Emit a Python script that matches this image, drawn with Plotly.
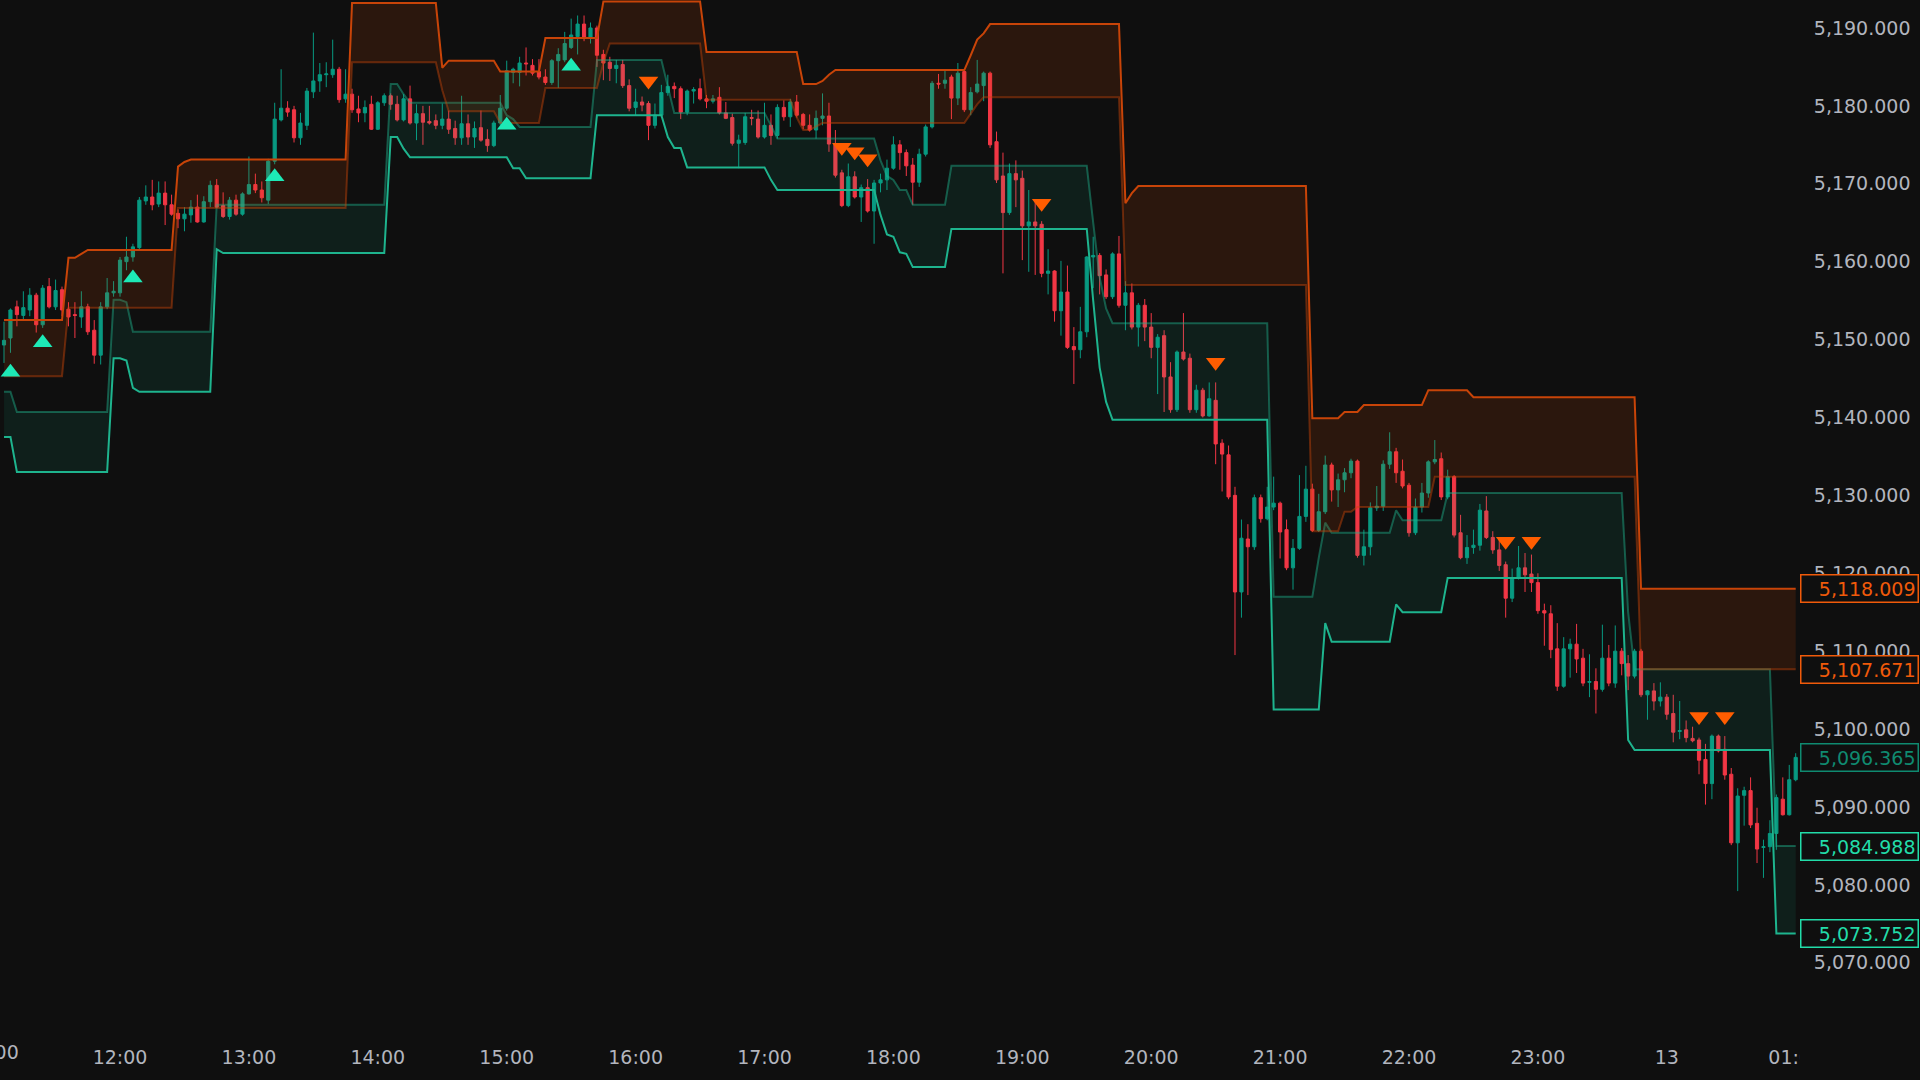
import plotly.graph_objects as go
from datetime import datetime, timedelta

# ---------------- data ----------------
START = "2024-04-12 11:06"   # first 3-minute candle
STEP_MIN = 3

opens = [5149.3,5150.2,5154.2,5153.1,5153.8,5155.7,5151.9,5156.8,5154.2,5156.4,5153.9,5153.2,5152.9,5154.2,5151.2,5148.0,5154.2,5156.0,5156.0,5160.0,
5160.6,5161.8,5167.8,5168.3,5167.4,5168.8,5167.3,5166.2,5165.5,5166.0,5167.0,5165.1,5167.7,5169.8,5167.2,5165.8,5167.9,5166.1,5168.7,5169.9,
5169.2,5167.9,5172.9,5178.2,5179.7,5179.5,5175.9,5177.5,5181.8,5183.2,5184.0,5184.0,5184.7,5180.9,5181.5,5179.6,5179.1,5180.2,5177.0,5180.4,
5181.3,5180.2,5178.2,5180.9,5177.8,5179.0,5178.0,5178.1,5177.5,5178.3,5177.1,5175.9,5177.7,5176.0,5177.2,5175.7,5174.9,5177.8,5179.7,5184.3,
5184.3,5185.5,5185.2,5184.4,5183.7,5183.0,5185.8,5185.9,5187.5,5188.9,5190.5,5188.8,5190.0,5186.6,5185.6,5184.8,5185.3,5182.6,5179.8,5180.5,
5180.3,5177.5,5178.8,5181.7,5182.5,5182.2,5179.2,5181.9,5182.2,5180.9,5180.6,5181.1,5179.1,5178.5,5175.2,5175.3,5178.5,5178.3,5176.0,5177.5,
5176.2,5179.8,5178.6,5180.5,5178.9,5177.5,5176.9,5178.4,5178.7,5175.1,5171.4,5167.2,5170.9,5168.3,5169.5,5166.5,5170.1,5170.5,5172.0,5175.0,
5174.0,5172.4,5170.2,5173.8,5177.3,5182.9,5182.9,5183.7,5181.0,5184.4,5179.5,5181.8,5182.6,5184.2,5175.4,5171.0,5166.3,5171.3,5170.7,5164.6,
5165.1,5164.8,5158.5,5158.8,5153.7,5156.1,5149.1,5148.7,5151.0,5160.6,5160.8,5158.3,5155.5,5161.0,5154.4,5156.0,5151.6,5154.4,5151.6,5149.0,
5150.5,5145.2,5141.0,5148.4,5147.6,5141.0,5143.5,5140.2,5142.2,5136.7,5135.2,5130.0,5117.6,5124.4,5123.4,5129.7,5127.0,5128.5,5129.0,5125.6,
5120.7,5123.2,5127.3,5130.8,5125.5,5127.9,5133.9,5130.7,5132.0,5132.9,5134.4,5122.3,5123.4,5128.4,5128.6,5134.0,5135.6,5133.1,5131.3,5125.2,
5128.5,5130.3,5134.3,5134.7,5129.8,5132.4,5125.2,5122.0,5123.3,5123.6,5128.0,5124.6,5123.0,5121.1,5116.8,5119.4,5120.7,5119.9,5118.8,5115.2,
5114.8,5110.3,5105.5,5110.3,5110.9,5109.1,5106.0,5106.1,5105.1,5109.1,5105.9,5110.0,5108.4,5106.8,5110.0,5104.4,5104.9,5103.6,5104.1,5102.0,
5099.7,5099.9,5098.8,5098.6,5096.1,5093.0,5099.1,5097.4,5094.2,5085.4,5091.5,5092.1,5087.9,5084.8,5084.9,5086.6,5091.0,5089.0,5093.5]

highs = [5152.3,5154.0,5155.0,5156.2,5156.6,5156.0,5157.0,5157.9,5157.7,5156.8,5154.8,5154.8,5156.2,5154.6,5152.5,5154.8,5157.9,5157.5,5160.6,5163.2,
5162.3,5168.3,5169.8,5170.5,5170.3,5170.3,5168.6,5166.7,5167.0,5167.9,5168.6,5168.4,5170.4,5170.6,5168.9,5168.3,5168.6,5168.9,5173.5,5171.3,
5170.3,5173.2,5180.4,5184.7,5180.6,5180.0,5179.1,5182.3,5189.4,5185.5,5185.6,5188.5,5185.0,5184.7,5182.2,5181.3,5180.7,5181.3,5180.6,5181.6,
5181.6,5181.3,5181.5,5182.6,5180.2,5180.0,5180.0,5178.9,5180.3,5179.4,5178.1,5181.3,5178.9,5178.0,5179.4,5177.0,5178.1,5181.4,5185.8,5184.9,
5186.3,5187.5,5186.0,5186.0,5184.7,5186.0,5187.4,5189.5,5191.2,5191.6,5191.6,5190.7,5190.3,5187.2,5186.3,5185.9,5185.9,5183.4,5182.2,5181.2,
5180.6,5180.3,5182.7,5184.0,5183.0,5182.5,5182.1,5182.4,5183.5,5181.4,5181.4,5182.4,5180.5,5179.0,5176.3,5179.1,5179.5,5179.4,5180.4,5178.9,
5180.2,5180.7,5180.9,5181.4,5179.1,5178.9,5179.4,5181.6,5180.4,5176.9,5171.8,5172.6,5171.6,5169.9,5170.6,5170.5,5171.3,5173.1,5176.1,5175.6,
5174.4,5173.3,5174.5,5177.6,5183.2,5184.1,5184.6,5184.0,5185.5,5184.6,5182.4,5185.9,5184.4,5184.4,5176.7,5174.0,5172.6,5173.0,5171.7,5169.2,
5168.0,5165.2,5161.6,5158.9,5160.1,5159.5,5151.6,5154.2,5160.7,5163.2,5161.1,5159.0,5161.2,5163.3,5157.5,5157.2,5154.7,5155.2,5153.4,5150.7,
5151.2,5147.1,5148.6,5153.4,5148.2,5144.2,5143.8,5144.5,5144.5,5137.2,5136.4,5131.1,5126.9,5126.3,5130.1,5130.1,5131.1,5132.4,5129.2,5126.9,
5124.4,5132.6,5133.8,5131.5,5130.2,5135.1,5134.2,5132.8,5133.5,5134.7,5134.6,5125.6,5129.1,5131.2,5134.5,5138.1,5136.1,5134.6,5131.6,5129.6,
5131.6,5134.5,5137.1,5135.5,5133.3,5132.6,5127.5,5124.9,5125.6,5128.9,5129.9,5125.4,5124.5,5121.5,5120.6,5123.5,5122.6,5122.4,5120.0,5116.1,
5115.9,5113.6,5111.8,5111.6,5113.5,5110.3,5109.6,5107.8,5113.4,5110.8,5113.3,5110.4,5109.5,5110.3,5110.3,5105.0,5105.9,5106.0,5104.5,5104.4,
5103.6,5101.1,5100.3,5098.9,5098.1,5099.3,5099.3,5099.1,5095.0,5092.4,5092.6,5093.8,5089.9,5085.8,5088.3,5091.6,5093.8,5095.4,5096.9]

lows = [5147.0,5148.3,5151.7,5152.4,5153.0,5150.9,5151.5,5154.0,5153.8,5153.0,5151.7,5150.2,5151.5,5150.6,5146.9,5146.8,5153.9,5155.5,5155.5,5158.9,
5160.0,5161.5,5167.3,5166.6,5167.0,5164.7,5165.9,5164.3,5163.9,5165.0,5165.0,5165.0,5167.0,5166.9,5165.6,5165.4,5165.9,5165.9,5168.6,5168.8,
5167.6,5167.4,5172.5,5178.0,5178.6,5175.3,5175.0,5176.9,5181.0,5181.8,5182.4,5183.6,5180.4,5180.4,5179.1,5177.9,5177.9,5176.9,5176.9,5180.0,
5179.5,5178.0,5178.0,5177.6,5175.6,5175.0,5177.6,5177.0,5177.0,5176.4,5175.0,5175.0,5175.0,5174.6,5175.4,5174.1,5174.7,5177.5,5179.4,5182.9,
5182.5,5183.9,5183.9,5183.4,5182.7,5182.7,5182.3,5185.6,5187.3,5186.6,5188.3,5188.0,5185.0,5183.3,5183.2,5182.9,5182.3,5179.3,5178.7,5179.3,
5175.6,5177.1,5178.5,5181.3,5181.0,5178.3,5178.8,5180.3,5180.7,5179.7,5180.3,5178.9,5178.3,5174.9,5172.0,5175.0,5177.5,5175.8,5175.8,5175.0,
5175.8,5178.1,5177.3,5178.5,5177.0,5176.7,5175.8,5177.5,5174.1,5170.8,5167.0,5167.0,5168.1,5165.1,5166.3,5162.3,5168.9,5169.2,5171.8,5171.8,
5171.0,5167.3,5169.6,5173.5,5177.1,5182.2,5182.2,5178.3,5180.1,5179.2,5178.8,5181.6,5180.6,5174.6,5170.1,5158.5,5166.0,5167.0,5160.2,5158.7,
5158.3,5158.0,5155.8,5152.3,5150.5,5148.8,5144.3,5147.6,5150.3,5156.6,5155.8,5155.2,5155.2,5154.1,5151.2,5151.3,5149.1,5149.8,5147.6,5143.0,
5140.7,5140.6,5140.7,5147.3,5140.6,5140.6,5140.0,5140.1,5134.0,5130.5,5129.5,5109.5,5114.3,5117.2,5123.0,5126.5,5126.8,5128.1,5121.9,5120.4,
5117.9,5123.0,5126.6,5125.3,5125.3,5127.6,5129.2,5128.5,5130.4,5132.2,5122.0,5121.0,5122.3,5128.0,5128.0,5133.4,5131.6,5130.9,5124.7,5124.9,
5127.8,5129.7,5134.0,5129.4,5129.5,5124.6,5121.8,5121.2,5122.5,5122.9,5124.4,5122.5,5120.3,5114.3,5116.3,5119.2,5117.6,5117.6,5114.8,5110.7,
5109.1,5104.9,5105.3,5106.6,5107.2,5105.5,5104.1,5102.0,5104.8,5105.5,5105.3,5106.9,5105.0,5106.5,5104.1,5101.2,5102.4,5102.9,5101.2,5098.3,
5098.7,5098.3,5098.3,5094.2,5090.3,5091.0,5097.0,5093.5,5085.1,5079.2,5087.6,5087.3,5082.8,5080.9,5084.2,5084.5,5088.9,5088.9,5093.3]

closes = [5149.9,5153.8,5153.2,5154.1,5155.7,5151.9,5156.6,5154.2,5156.3,5153.8,5152.9,5153.1,5154.2,5151.0,5148.0,5154.2,5156.0,5156.2,5160.2,5160.6,
5161.9,5167.9,5168.3,5167.3,5168.8,5167.3,5166.1,5165.5,5166.1,5167.0,5165.1,5167.7,5169.8,5167.0,5165.8,5167.9,5166.1,5168.7,5169.9,5169.2,
5168.2,5172.9,5178.3,5179.7,5179.2,5175.9,5177.8,5181.9,5183.2,5184.0,5184.1,5184.7,5180.8,5181.5,5179.5,5179.1,5179.8,5177.0,5180.4,5181.3,
5180.2,5178.2,5180.9,5177.8,5179.0,5177.9,5177.8,5177.5,5178.3,5177.0,5175.9,5177.7,5176.0,5177.1,5175.6,5174.9,5177.8,5179.7,5184.5,5184.7,
5185.5,5185.4,5184.2,5183.7,5183.0,5185.8,5186.6,5188.0,5189.1,5190.5,5188.7,5190.0,5186.5,5185.5,5184.8,5185.2,5182.6,5179.7,5180.5,5180.1,
5177.5,5178.8,5181.7,5182.5,5182.2,5179.2,5181.9,5182.1,5180.9,5180.6,5180.9,5179.1,5178.4,5175.2,5175.6,5178.6,5178.4,5176.0,5177.5,5176.2,
5179.8,5178.6,5180.5,5178.8,5177.5,5176.9,5178.4,5178.7,5175.1,5171.1,5167.2,5170.9,5168.3,5169.5,5166.5,5170.1,5170.5,5172.0,5175.0,5174.0,
5172.3,5170.2,5173.8,5177.3,5182.9,5182.8,5183.3,5181.0,5184.2,5179.5,5181.7,5182.8,5184.2,5175.0,5170.5,5166.3,5171.3,5170.5,5164.6,5165.1,
5164.6,5158.5,5158.8,5153.7,5156.1,5149.0,5148.7,5151.0,5160.6,5160.8,5158.2,5155.5,5161.0,5154.4,5156.0,5151.6,5154.4,5151.6,5149.0,5150.3,
5145.2,5141.0,5148.4,5147.5,5141.0,5143.5,5140.2,5142.4,5136.6,5135.3,5129.8,5117.6,5124.5,5123.4,5129.7,5127.0,5128.5,5129.0,5125.3,5120.7,
5123.2,5127.3,5130.8,5125.5,5127.9,5133.9,5130.7,5132.0,5132.9,5134.4,5122.3,5123.4,5128.4,5128.6,5134.0,5135.6,5132.9,5131.2,5125.2,5128.5,
5130.3,5134.3,5134.6,5129.8,5132.4,5124.9,5122.0,5123.3,5123.6,5128.1,5124.6,5123.0,5121.0,5116.8,5119.4,5120.7,5119.8,5118.8,5115.2,5114.9,
5110.2,5105.5,5110.3,5110.9,5109.0,5105.9,5106.1,5105.1,5109.1,5105.9,5110.0,5108.4,5106.8,5110.0,5104.4,5104.9,5103.6,5104.1,5101.9,5099.6,
5099.8,5098.9,5098.5,5096.0,5093.0,5099.1,5097.2,5094.1,5085.4,5091.4,5092.1,5087.7,5084.6,5084.9,5086.6,5091.2,5089.0,5093.5,5096.365]

# zone lines: (candle index where a level starts, level) - each level holds until the next entry
orange_top_idx = [0, 10, 12, 13, 27, 28, 29, 54, 68, 69, 77, 84, 93, 109, 124, 127, 128, 129, 150, 151, 152, 153, 174, 175, 176, 203, 208, 211, 221, 228, 254]
orange_top_val = [5152.5, 5160.5, 5161.0, 5161.5, 5172.2, 5172.8, 5173.1, 5193.2, 5184.9, 5185.8, 5184.4, 5188.7, 5193.4, 5186.9, 5182.8, 5183.2, 5184.0, 5184.6,
                  5186.5, 5188.5, 5189.3, 5190.5, 5167.5, 5168.8, 5169.7, 5139.9, 5140.7, 5141.6, 5143.5, 5142.6, 5118.009]
orange_bot_idx = [0, 10, 27, 54, 68, 69, 77, 84, 93, 94, 109, 123, 124, 126, 127, 150, 151, 152, 174, 203, 208, 210, 222, 254]
orange_bot_val = [5145.3, 5154.1, 5166.9, 5185.6, 5182.0, 5179.3, 5177.8, 5182.3, 5185.5, 5188.0, 5180.8, 5178.5, 5176.9, 5177.3, 5177.8, 5179.0,
                  5180.2, 5181.1, 5157.0, 5125.4, 5127.9, 5128.5, 5132.4, 5107.671]
teal_top_idx = [0, 2, 17, 19, 20, 33, 60, 62, 63, 78, 79, 80, 92, 103, 104, 119, 120, 136, 137, 138, 139, 141, 147, 169, 170, 171, 172, 197,
                204, 205, 206, 216, 217, 224, 252, 253, 275]
teal_top_val = [5143.3, 5140.7, 5155.1, 5154.8, 5151.0, 5167.3, 5182.8, 5181.5, 5180.4, 5178.8, 5178.3, 5177.3, 5185.9, 5182.5, 5179.1, 5177.5,
                5175.8, 5173.0, 5171.0, 5170.5, 5169.2, 5167.3, 5172.3, 5165.0, 5158.0, 5154.0, 5152.1, 5117.0, 5122.0, 5126.5, 5125.2,
                5128.1, 5126.8, 5130.3, 5115.0, 5107.671, 5084.988]
teal_bot_idx = [0, 2, 17, 19, 20, 21, 33, 34, 60, 62, 63, 79, 81, 92, 103, 104, 106, 119, 120, 136, 137, 138, 139, 140, 141, 147, 169, 170,
                171, 172, 197, 205, 206, 216, 217, 224, 252, 253, 275]
teal_bot_val = [5137.5, 5133.0, 5147.6, 5147.3, 5143.8, 5143.3, 5161.6, 5161.1, 5176.0, 5174.5, 5173.4, 5172.0, 5170.7, 5178.8, 5176.0, 5174.6,
                5172.1, 5170.5, 5169.2, 5166.0, 5163.5, 5163.2, 5161.2, 5161.0, 5159.3, 5164.2, 5155.0, 5146.4, 5142.0, 5139.7, 5102.5,
                5113.6, 5111.2, 5116.0, 5115.0, 5119.4, 5098.6, 5097.3, 5073.752]

# signal markers
buy_times = ["2024-04-12 11:09", "2024-04-12 11:24", "2024-04-12 12:06", "2024-04-12 13:12", "2024-04-12 15:00", "2024-04-12 15:30"]
buy_vals = [5145.8, 5149.6, 5157.9, 5170.9, 5177.5, 5185.1]
sell_times = ["2024-04-12 16:06", "2024-04-12 17:36", "2024-04-12 17:42", "2024-04-12 17:48", "2024-04-12 19:09",
              "2024-04-12 20:30", "2024-04-12 22:45", "2024-04-12 22:57", "2024-04-13 00:15", "2024-04-13 00:27"]
sell_vals = [5183.2, 5174.7, 5174.1, 5173.2, 5167.5, 5147.1, 5124.1, 5124.1, 5101.6, 5101.6]

# axis ticks
y_ticks = [5070, 5080, 5090, 5100, 5110, 5120, 5130, 5140, 5150, 5160, 5170, 5180, 5190]
x_tick_times = ["2024-04-12 12:00", "2024-04-12 13:00", "2024-04-12 14:00", "2024-04-12 15:00", "2024-04-12 16:00",
                "2024-04-12 17:00", "2024-04-12 18:00", "2024-04-12 19:00", "2024-04-12 20:00", "2024-04-12 21:00",
                "2024-04-12 22:00", "2024-04-12 23:00", "2024-04-13 00:00", "2024-04-13 01:00"]
x_tick_text = ["12:00", "13:00", "14:00", "15:00", "16:00", "17:00", "18:00", "19:00", "20:00", "21:00",
               "22:00", "23:00", "13", "01:00"]

# ---------------- build ----------------
t0 = datetime.strptime(START, "%Y-%m-%d %H:%M")
n = len(closes)
times = [t0 + timedelta(minutes=STEP_MIN * i) for i in range(n)]


def levels(idx, val):
    out = []
    k = 0
    for i in range(n):
        while k + 1 < len(idx) and idx[k + 1] <= i:
            k += 1
        out.append(val[k])
    return out


ot = levels(orange_top_idx, orange_top_val)
ob = levels(orange_bot_idx, orange_bot_val)
tt = levels(teal_top_idx, teal_top_val)
tb = levels(teal_bot_idx, teal_bot_val)

BG = "#0f0f0f"
UP = "#089981"
DN = "#f23645"
OR_STRONG = "rgb(200,68,8)"
OR_DIM = "rgba(200,68,8,0.45)"
OR_FILL = "rgba(230,81,0,0.13)"
TL_STRONG = "rgb(30,180,142)"
TL_DIM = "rgba(30,180,142,0.45)"
TL_FILL = "rgba(20,200,150,0.09)"
TXT = "#b2b5be"
FONT = "DejaVu Sans"

fig = go.Figure()
fig.add_trace(go.Scatter(x=times, y=tb, mode="lines", line=dict(color=TL_STRONG, width=2), hoverinfo="skip", showlegend=False))
fig.add_trace(go.Scatter(x=times, y=tt, mode="lines", line=dict(color=TL_DIM, width=2), fill="tonexty", fillcolor=TL_FILL,
                         hoverinfo="skip", showlegend=False))
fig.add_trace(go.Scatter(x=times, y=ob, mode="lines", line=dict(color=OR_DIM, width=2), hoverinfo="skip", showlegend=False))
fig.add_trace(go.Scatter(x=times, y=ot, mode="lines", line=dict(color=OR_STRONG, width=2), fill="tonexty", fillcolor=OR_FILL,
                         hoverinfo="skip", showlegend=False))

fig.add_trace(go.Candlestick(
    x=times, open=opens, high=highs, low=lows, close=closes,
    increasing=dict(line=dict(color=UP, width=1), fillcolor=UP),
    decreasing=dict(line=dict(color=DN, width=1), fillcolor=DN),
    whiskerwidth=0, showlegend=False))

fig.add_trace(go.Scatter(x=buy_times, y=buy_vals, mode="markers",
                         marker=dict(symbol="triangle-up", size=17, color="#1de9b6", line=dict(width=0)), showlegend=False))
fig.add_trace(go.Scatter(x=sell_times, y=sell_vals, mode="markers",
                         marker=dict(symbol="triangle-down", size=17, color="#ff5d00", line=dict(width=0)), showlegend=False))

# right-side price labels
price_labels = [(5118.009, "#f05a0a"), (5107.671, "#f05a0a"), (5096.365, "#0f8a70"), (5084.988, "#22dca9"), (5073.752, "#22dca9")]
for v, c in price_labels:
    fig.add_annotation(x=1.0, xref="paper", xanchor="left", y=v, yref="y", yanchor="middle",
                       text=f"{v:,.3f}", showarrow=False, align="right",
                       font=dict(family=FONT, size=19, color=c), bgcolor=BG, bordercolor=c,
                       borderwidth=1.5, borderpad=2, width=112, height=22)

# left cut-off time label
fig.add_annotation(x=-8.8 / 1800, xref="paper", xanchor="center", y=-22 / 1030, yref="paper", yanchor="middle",
                   text="11:00", showarrow=False, font=dict(family=FONT, size=19, color=TXT))

fig.update_layout(
    width=1920, height=1080,
    paper_bgcolor=BG, plot_bgcolor=BG,
    margin=dict(l=0, r=120, t=0, b=50),
    font=dict(family=FONT, size=19, color=TXT),
    xaxis=dict(type="date", range=["2024-04-12 11:04:08", "2024-04-13 01:02:00"],
               tickvals=x_tick_times, ticktext=x_tick_text, showgrid=False, zeroline=False,
               ticks="outside", ticklen=10, tickcolor=BG, showline=False,
               rangeslider=dict(visible=False), tickfont=dict(family=FONT, size=19, color=TXT)),
    yaxis=dict(side="right", range=[5061.37, 5193.59], tickvals=y_ticks, tickformat=",.3f",
               showgrid=False, zeroline=False, ticks="outside", ticklen=9, tickcolor=BG, showline=False,
               tickfont=dict(family=FONT, size=19, color=TXT)),
    shapes=[dict(type="rect", xref="paper", yref="paper", x0=1.0, x1=1.07, y0=-0.049, y1=-0.003,
                 fillcolor=BG, line=dict(width=0), layer="above")],
)

fig.write_html("out.html", config={"displayModeBar": False},
               post_script="document.body.style.margin='0px';document.body.style.overflow='hidden';")
